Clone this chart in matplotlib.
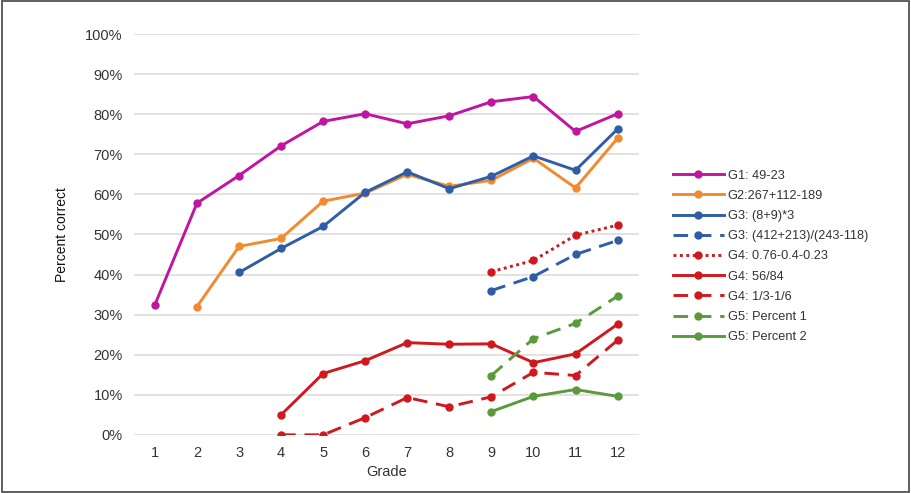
import matplotlib.pyplot as plt
from matplotlib.patches import Rectangle
from matplotlib.ticker import PercentFormatter

plt.rcParams['font.family'] = ['Liberation Sans', 'DejaVu Sans']

# ── Data (percent correct by grade) ────────────────────────────────────────
grades = list(range(1, 13))

g1_grades = [1, 2, 3, 4, 5, 6, 7, 8, 9, 10, 11, 12]
g1_vals = [32.5, 57.8, 64.7, 72.1, 78.2, 80.1, 77.6, 79.6, 83.1, 84.4, 75.7, 80.1]

g2_grades = [2, 3, 4, 5, 6, 7, 8, 9, 10, 11, 12]
g2_vals = [32.0, 47.0, 49.0, 58.3, 60.3, 65.0, 62.0, 63.5, 69.0, 61.6, 74.0]

g3a_grades = [3, 4, 5, 6, 7, 8, 9, 10, 11, 12]
g3a_vals = [40.5, 46.5, 52.0, 60.5, 65.6, 61.4, 64.5, 69.6, 66.0, 76.3]

g3b_grades = [9, 10, 11, 12]
g3b_vals = [36.0, 39.5, 45.0, 48.5]

g4a_grades = [9, 10, 11, 12]
g4a_vals = [40.7, 43.5, 49.8, 52.3]

g4b_grades = [4, 5, 6, 7, 8, 9, 10, 11, 12]
g4b_vals = [5.0, 15.3, 18.5, 23.0, 22.6, 22.7, 18.0, 20.2, 27.6]

g4c_grades = [4, 5, 6, 7, 8, 9, 10, 11, 12]
g4c_vals = [0.0, 0.0, 4.3, 9.3, 7.0, 9.5, 15.6, 14.8, 23.6]

g5a_grades = [9, 10, 11, 12]
g5a_vals = [14.8, 24.0, 27.8, 34.6]

g5b_grades = [9, 10, 11, 12]
g5b_vals = [5.8, 9.6, 11.3, 9.6]

labels = ['G1: 49-23', 'G2:267+112-189', 'G3: (8+9)*3',
          'G3: (412+213)/(243-118)', 'G4: 0.76-0.4-0.23', 'G4: 56/84',
          'G4: 1/3-1/6', 'G5: Percent 1', 'G5: Percent 2']

MAGENTA = '#C0169F'
ORANGE = '#F28A30'
BLUE = '#2F5EA6'
RED = '#D0191E'
GREEN = '#5B9A3B'

series = [
    (g1_grades, g1_vals, MAGENTA, '-'),
    (g2_grades, g2_vals, ORANGE, '-'),
    (g3a_grades, g3a_vals, BLUE, '-'),
    (g3b_grades, g3b_vals, BLUE, (0, (5, 3))),
    (g4a_grades, g4a_vals, RED, (0, (1, 1.2))),
    (g4b_grades, g4b_vals, RED, '-'),
    (g4c_grades, g4c_vals, RED, (0, (5, 3))),
    (g5a_grades, g5a_vals, GREEN, (0, (5, 3))),
    (g5b_grades, g5b_vals, GREEN, '-'),
]

fig = plt.figure(figsize=(9.11, 4.93), dpi=100)
ax = fig.add_axes([0.147, 0.118, 0.554, 0.813])

for (gx, gy, c, ls), lab in zip(series, labels):
    ax.plot(gx, gy, color=c, ls=ls, lw=2.1, marker='o', ms=5,
            label=lab)

ax.set_xlim(0.5, 12.5)
ax.set_ylim(0, 100)
ax.set_xticks(grades)
ax.set_yticks(range(0, 101, 10))
ax.yaxis.set_major_formatter(PercentFormatter(decimals=0))
ax.grid(axis='y', color='#DDDDDD', lw=1.2)
ax.set_axisbelow(True)
for sp in ax.spines.values():
    sp.set_visible(False)
ax.tick_params(length=0, labelsize=10.5, colors='#333333', pad=8)

ax.set_xlabel('Grade', fontsize=10.5, color='#333333', labelpad=4)
ax.set_ylabel('Percent correct', fontsize=10, color='#111111',
              labelpad=12)

ax.legend(loc='center left', bbox_to_anchor=(1.045, 0.445), frameon=False,
          fontsize=9.2, handlelength=4.0, labelspacing=0.64,
          handletextpad=0.3, labelcolor='#333333')

# thin frame around the whole picture
fig.patches.append(Rectangle((0.002, 0.002), 0.996, 0.996,
                             transform=fig.transFigure, fill=False,
                             edgecolor='#444444', lw=1.2))

fig.savefig('out.png', dpi=100)
plt.close()
